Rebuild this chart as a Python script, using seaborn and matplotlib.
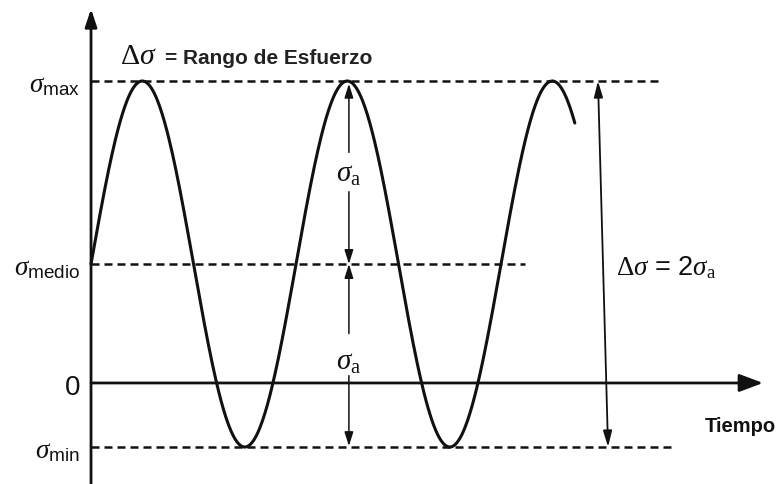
import numpy as np
import pandas as pd
import matplotlib
matplotlib.use("Agg")
import matplotlib.pyplot as plt
import seaborn as sns

# Stress levels of the cycle (in units of the stress amplitude)
sigma_a = 1.0
sigma_medio = 0.65
sigma_max = sigma_medio + sigma_a
sigma_min = sigma_medio - sigma_a

# Time axis: one period is one unit, the plotted signal runs a bit past two cycles
period = 1.0
t_end = 2.36

level_values = [sigma_max, sigma_medio, sigma_min]
level_ends = [2.785, 2.117, 2.839]
level_labels = [r"$\sigma_{\mathsf{max}}$", r"$\sigma_{\mathsf{medio}}$", r"$\sigma_{\mathsf{min}}$"]

sns.set_theme(style="white")
plt.rcParams["font.family"] = ["Liberation Sans", "DejaVu Sans"]
plt.rcParams["mathtext.fontset"] = "custom"
plt.rcParams["mathtext.rm"] = "Liberation Serif"
plt.rcParams["mathtext.it"] = "Liberation Serif:italic"
plt.rcParams["mathtext.bf"] = "Liberation Serif:bold"
plt.rcParams["mathtext.sf"] = "Liberation Sans"

t = np.linspace(0.0, t_end, 600)
signal = pd.DataFrame({"t": t, "s": sigma_medio + sigma_a * np.sin(2 * np.pi * t / period)})

fig = plt.figure(figsize=(7.79, 4.85), dpi=100)
ax = fig.add_axes([0, 0, 1, 1])
ax.set_xlim(-0.444, 3.356)
ax.set_ylim(-0.552, 2.098)
ax.set_axis_off()

ink = "#111111"

# sinusoidal stress history
sns.lineplot(data=signal, x="t", y="s", color=ink, lw=2.2, ax=ax, legend=False)

# reference levels
for val, end in zip(level_values, level_ends):
    ax.plot([0, end], [val, val], color=ink, lw=1.8, dashes=(3.2, 2.0), solid_capstyle="butt")

# axes with arrowheads
ax.annotate("", xy=(0, 2.044), xytext=(0, -0.56),
            arrowprops=dict(arrowstyle="-|>,head_length=0.9,head_width=0.3", color=ink, lw=2.0,
                            shrinkA=0, shrinkB=0))
ax.annotate("", xy=(3.278, 0), xytext=(0, 0),
            arrowprops=dict(arrowstyle="-|>,head_length=1.2,head_width=0.45", color=ink, lw=2.0,
                            shrinkA=0, shrinkB=0))

# amplitude arrows at the second peak
t_a = 1.258
small = dict(arrowstyle="-|>,head_length=0.7,head_width=0.22", color=ink, lw=1.1, shrinkA=0, shrinkB=0)
ax.annotate("", xy=(t_a, sigma_max - 0.015), xytext=(t_a, sigma_max - 0.39), arrowprops=small)
ax.annotate("", xy=(t_a, sigma_medio), xytext=(t_a, sigma_max - 0.605), arrowprops=small)
ax.annotate("", xy=(t_a, sigma_medio), xytext=(t_a, sigma_medio - 0.38), arrowprops=small)
ax.annotate("", xy=(t_a, sigma_min + 0.005), xytext=(t_a, sigma_medio - 0.61), arrowprops=small)
ax.text(t_a, sigma_max - 0.50, r"$\sigma_{\mathrm{a}}$", fontsize=21, ha="center", va="center", color=ink)
ax.text(t_a, sigma_medio - 0.53, r"$\sigma_{\mathrm{a}}$", fontsize=21, ha="center", va="center", color=ink)

# stress range arrow
big = dict(arrowstyle="<|-|>,head_length=0.8,head_width=0.22", color=ink, lw=1.3, shrinkA=0, shrinkB=0)
ax.annotate("", xy=(2.473, sigma_max), xytext=(2.522, sigma_min), arrowprops=big)
ax.text(2.561, 0.596, r"$\Delta\sigma$ = 2$\sigma_{\mathrm{a}}$", fontsize=19.5, ha="left",
        va="baseline", color=ink)

# level labels
for val, lab in zip(level_values, level_labels):
    ax.text(-0.054, val - 0.055, lab, fontsize=19.5, ha="right", va="baseline", color=ink)
ax.text(-0.054, -0.02, "0", fontsize=20, ha="right", va="center", color=ink)

# title line of the diagram
ax.text(0.141, 1.749, r"$\Delta\sigma$", fontsize=21.5, ha="left", va="baseline", color=ink)
ax.text(0.361, 1.749, "= Rango de Esfuerzo", fontsize=15, fontweight="bold", ha="left",
        va="baseline", color="#222222")
ax.text(2.995, -0.262, "Tiempo", fontsize=14.5, fontweight="bold", ha="left",
        va="baseline", color=ink)

fig.savefig("out.png", dpi=100)
